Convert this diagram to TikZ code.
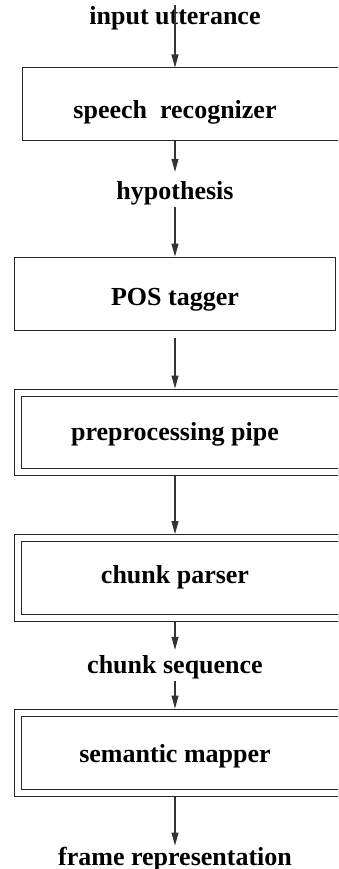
\documentclass[tikz,border=0pt]{standalone}
\usepackage{fontspec}
\setmainfont{Liberation Serif}
\usetikzlibrary{arrows.meta}
\begin{document}
\begin{tikzpicture}[x=1pt,y=-1pt,
  lbl/.style={inner sep=0pt,anchor=base,font=\fontsize{26}{30}\selectfont\bfseries},
  sbox/.style={draw=black!85,line width=1pt,inner sep=0pt},
  dbox/.style={draw=black!85,line width=1pt,double,double distance=6pt,inner sep=0pt},
  arr/.style={draw=black!80,line width=1.1pt,-{Triangle[length=13pt,width=7pt]}}]
\useasboundingbox (0,0) rectangle (338,869);
\clip (0,0) rectangle (338,869);
\coordinate (ax) at (175,5);
% text labels
\node[lbl] (inp) at (175,25) {input utterance};
\node[lbl] (hyp) at (175,200) {hypothesis};
\node[lbl] (cs)  at (175,673) {chunk sequence};
\node[lbl] (fr)  at (175,865) {frame representation};
% boxes
\node[sbox,minimum width=327pt,minimum height=73pt] (sr) at (185.5,104.5) {};
\node[lbl] (srt) at (175,119) {speech\ \ recognizer};
\node[sbox,minimum width=321pt,minimum height=73pt] (pos) at (174.5,293.5) {};
\node[lbl] (post) at (175,305) {POS tagger};
\node[dbox,minimum width=327.5pt,minimum height=79.5pt] (pre) at (181.25,432.25) {};
\node[lbl] (pret) at (175,440) {preprocessing pipe};
\node[dbox,minimum width=327.5pt,minimum height=79.5pt] (cp) at (181.25,577.75) {};
\node[lbl] (cpt) at (175,583) {chunk parser};
\node[dbox,minimum width=327.5pt,minimum height=80.5pt] (sm) at (181.25,752.75) {};
\node[lbl] (smt) at (175,762) {semantic mapper};
% connectors
\draw[arr] (ax) -- (sr.north -| ax);
\draw[arr] (sr.south -| ax) -- ([yshift=10pt]hyp.north);
\draw[arr] ([yshift=-1.5pt]hyp.south) -- (pos.north -| ax);
\draw[arr] ([yshift=-7pt]pos.south -| ax) -- ([yshift=3.5pt]pre.north -| ax);
\draw[arr] ([yshift=-3.5pt]pre.south -| ax) -- ([yshift=3.5pt]cp.north -| ax);
\draw[arr] ([yshift=-3.5pt]cp.south -| ax) -- ([yshift=5pt]cs.north);
\draw[arr] ([yshift=-2pt]cs.south) -- ([yshift=3.5pt]sm.north -| ax);
\draw[arr] ([yshift=-3.5pt]sm.south -| ax) -- ([yshift=1pt]fr.north);
\end{tikzpicture}
\end{document}
